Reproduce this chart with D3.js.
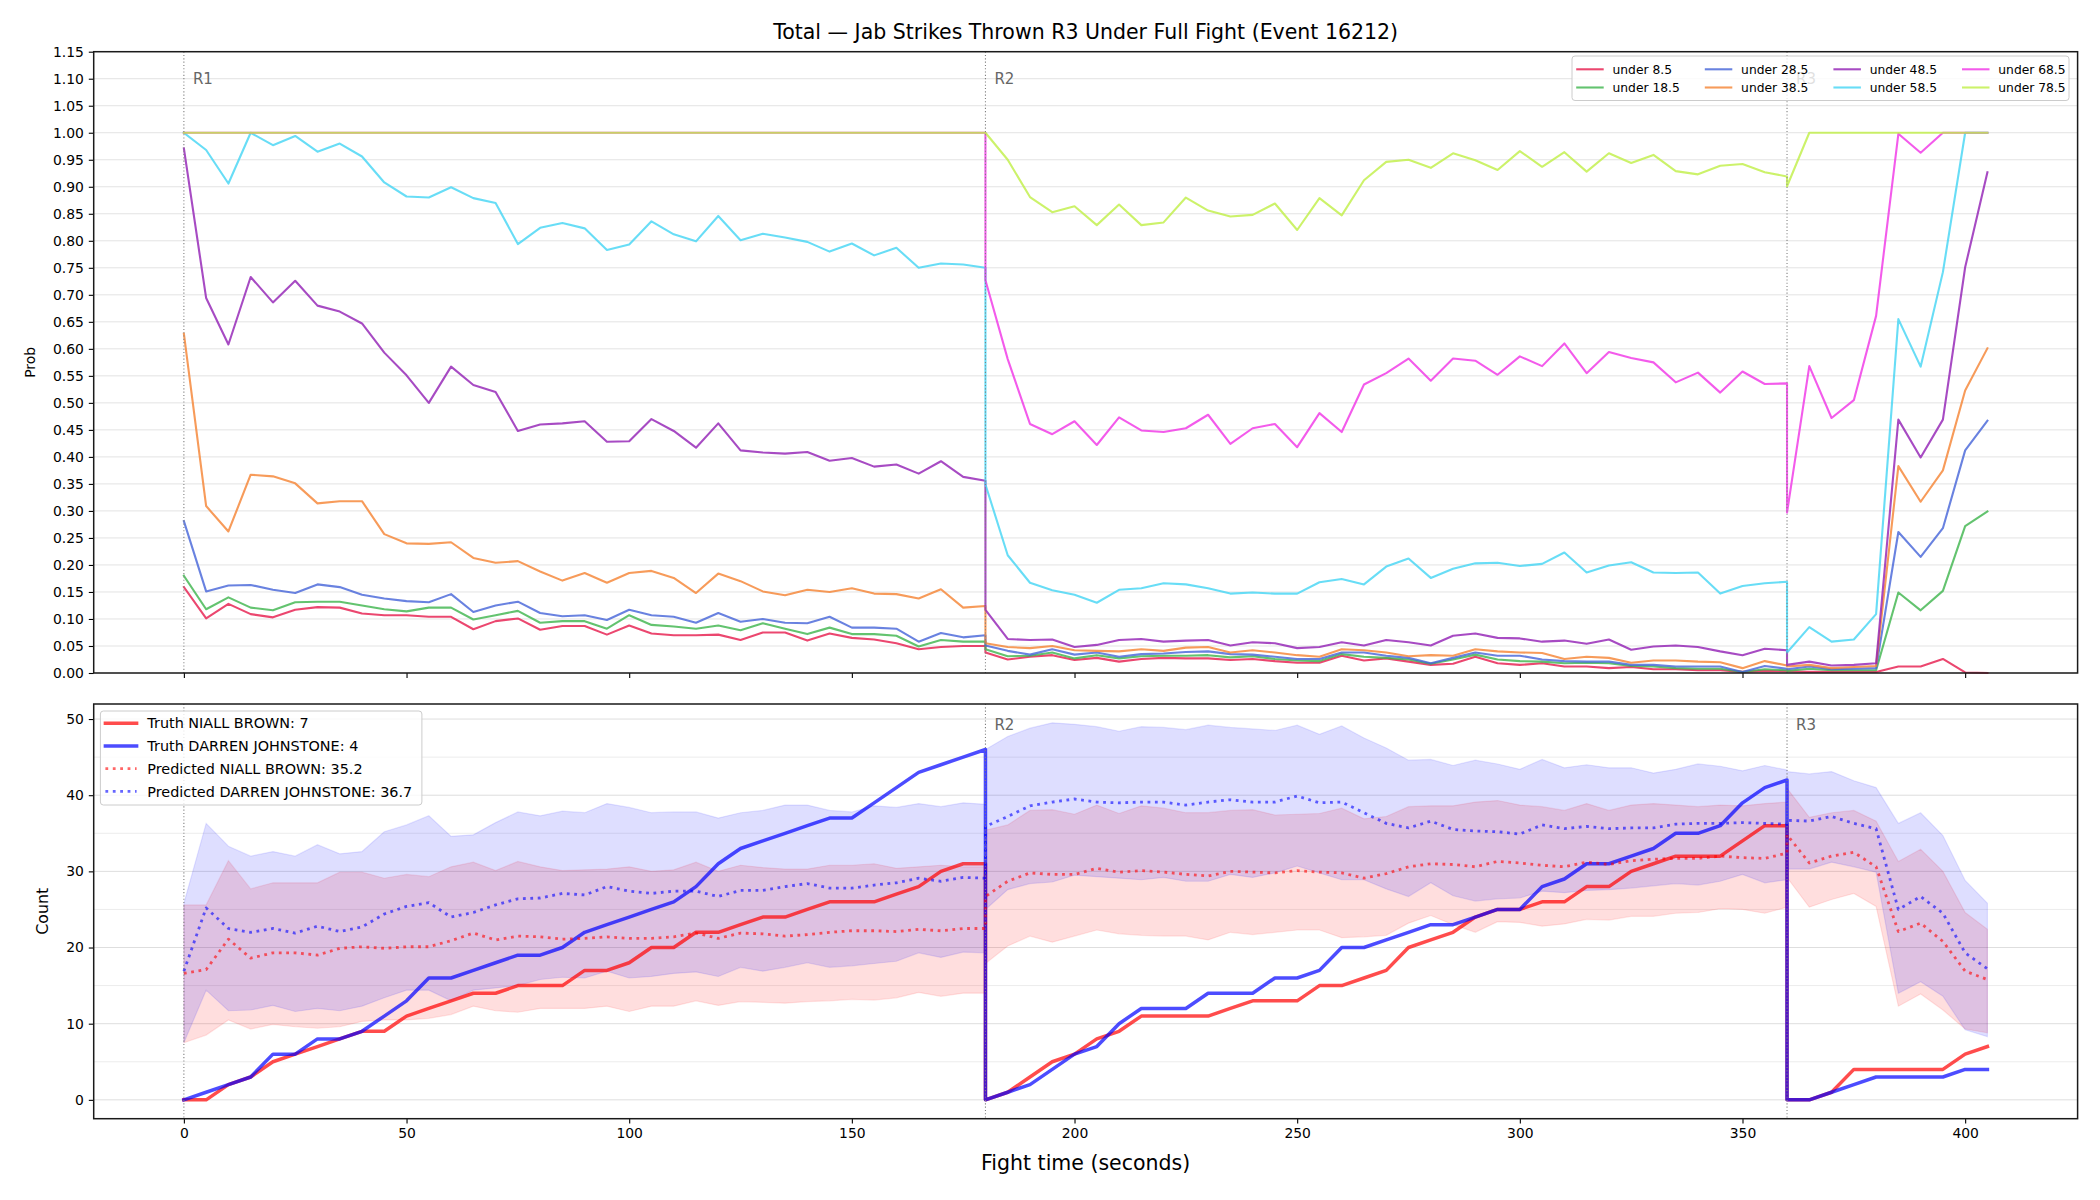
<!DOCTYPE html>
<html>
<head>
<meta charset="utf-8">
<script src="https://cdn.jsdelivr.net/npm/d3@7"></script>
<style>
  body { margin: 0; background: #fff; }
  svg text { font-family: "DejaVu Sans", sans-serif; }
</style>
</head>
<body>
<script>
// Jab strikes thrown: threshold probabilities (top) and cumulative counts (bottom).

// ---- time grid (each round restarts at its boundary, so 180 and 360 appear twice)
const R1_TIME = [0,5,10,15,20,25,30,35,40,45,50,55,60,65,70,75,80,85,90,95,100,105,110,115,120,125,130,135,140,145,150,155,160,165,170,175,180];
const R2_TIME = [180,185,190,195,200,205,210,215,220,225,230,235,240,245,250,255,260,265,270,275,280,285,290,295,300,305,310,315,320,325,330,335,340,345,350,355,360];
const R3_TIME = [360,365,370,375,380,385,390,395,400,405];
const TIME = [...R1_TIME, ...R2_TIME, ...R3_TIME];

// ---- top panel: P(total under line)
const U8_5 = [
  0.159,0.101,0.128,0.109,0.103,0.117,0.122,0.121,0.110,0.107,0.107,0.104,0.104,0.081,0.096,0.101,0.080,0.087,0.087,0.071,0.088,0.073,0.070,0.070,0.071,0.061,0.075,0.075,0.060,0.073,0.065,0.062,0.055,0.044,0.048,0.050,0.050,
  0.038,0.025,0.030,0.033,0.024,0.028,0.021,0.026,0.028,0.027,0.027,0.024,0.026,0.022,0.019,0.019,0.032,0.023,0.027,0.021,0.015,0.017,0.030,0.018,0.015,0.018,0.012,0.012,0.009,0.011,0.007,0.007,0.005,0.005,0.002,0.004,0.003,
  0.003,0.002,0.002,0.002,0.002,0.012,0.012,0.026,0.001,0.000];
const U18_5 = [
  0.180,0.118,0.140,0.121,0.116,0.131,0.132,0.132,0.125,0.118,0.114,0.121,0.121,0.099,0.107,0.115,0.093,0.096,0.096,0.082,0.107,0.089,0.086,0.082,0.088,0.079,0.092,0.082,0.072,0.084,0.072,0.072,0.069,0.049,0.061,0.058,0.058,
  0.044,0.031,0.032,0.038,0.027,0.033,0.027,0.031,0.032,0.032,0.033,0.029,0.031,0.026,0.023,0.022,0.035,0.030,0.028,0.025,0.017,0.025,0.034,0.025,0.022,0.021,0.018,0.019,0.018,0.013,0.012,0.009,0.008,0.008,0.002,0.007,0.005,
  0.004,0.008,0.005,0.005,0.005,0.149,0.116,0.152,0.272,0.299];
const U28_5 = [
  0.281,0.151,0.162,0.163,0.154,0.148,0.164,0.159,0.145,0.138,0.133,0.131,0.146,0.113,0.125,0.132,0.111,0.105,0.107,0.098,0.117,0.107,0.104,0.093,0.111,0.095,0.100,0.093,0.092,0.104,0.084,0.084,0.082,0.058,0.074,0.066,0.070,
  0.051,0.041,0.034,0.044,0.034,0.038,0.030,0.035,0.036,0.039,0.040,0.035,0.034,0.030,0.026,0.026,0.038,0.038,0.032,0.028,0.018,0.028,0.038,0.032,0.032,0.025,0.022,0.021,0.021,0.015,0.015,0.012,0.012,0.012,0.002,0.013,0.008,
  0.007,0.012,0.007,0.008,0.009,0.261,0.215,0.268,0.412,0.467];
const U38_5 = [
  0.628,0.309,0.262,0.367,0.364,0.351,0.314,0.318,0.318,0.257,0.240,0.239,0.242,0.213,0.204,0.207,0.188,0.171,0.185,0.167,0.185,0.189,0.176,0.148,0.184,0.170,0.151,0.144,0.154,0.150,0.157,0.147,0.146,0.138,0.155,0.121,0.124,
  0.055,0.048,0.046,0.050,0.042,0.041,0.040,0.044,0.041,0.047,0.048,0.038,0.042,0.038,0.033,0.030,0.044,0.042,0.038,0.031,0.033,0.032,0.044,0.040,0.038,0.037,0.026,0.030,0.028,0.019,0.023,0.023,0.021,0.020,0.009,0.022,0.014,
  0.012,0.015,0.009,0.011,0.013,0.383,0.317,0.375,0.523,0.601];
const U48_5 = [
  0.971,0.694,0.608,0.733,0.686,0.726,0.680,0.669,0.647,0.593,0.551,0.500,0.567,0.533,0.520,0.448,0.460,0.462,0.466,0.428,0.429,0.470,0.448,0.417,0.462,0.412,0.408,0.406,0.409,0.393,0.398,0.382,0.386,0.369,0.392,0.363,0.356,
  0.117,0.063,0.061,0.062,0.048,0.052,0.061,0.063,0.058,0.060,0.061,0.051,0.057,0.055,0.046,0.048,0.057,0.051,0.061,0.057,0.051,0.069,0.073,0.065,0.064,0.058,0.060,0.054,0.062,0.043,0.049,0.051,0.048,0.040,0.033,0.045,0.042,
  0.015,0.021,0.014,0.015,0.018,0.469,0.399,0.469,0.751,0.927];
const U58_5 = [
  1.000,0.968,0.906,1.000,0.977,0.994,0.965,0.980,0.956,0.908,0.882,0.880,0.899,0.879,0.870,0.794,0.824,0.833,0.823,0.783,0.793,0.836,0.812,0.799,0.846,0.801,0.813,0.806,0.798,0.780,0.795,0.773,0.787,0.750,0.758,0.756,0.750,
  0.349,0.218,0.167,0.153,0.145,0.130,0.154,0.157,0.166,0.164,0.157,0.147,0.149,0.147,0.147,0.168,0.174,0.164,0.197,0.212,0.176,0.193,0.203,0.204,0.198,0.202,0.223,0.186,0.199,0.205,0.186,0.185,0.186,0.147,0.161,0.166,0.169,
  0.038,0.085,0.058,0.062,0.109,0.655,0.567,0.742,1.000,1.000];
const U68_5 = [
  1,1,1,1,1,1,1,1,1,1,1,1,1,1,1,1,1,1,1,1,1,1,1,1,1,1,1,1,1,1,1,1,1,1,1,1,1,
  0.727,0.581,0.461,0.442,0.466,0.422,0.473,0.449,0.446,0.453,0.478,0.424,0.453,0.461,0.418,0.481,0.446,0.534,0.555,0.582,0.541,0.582,0.578,0.552,0.586,0.568,0.610,0.555,0.594,0.583,0.575,0.538,0.556,0.519,0.558,0.535,0.536,
  0.297,0.568,0.472,0.505,0.661,0.998,0.963,1.000,1.000,1.000];
const U78_5 = [
  1,1,1,1,1,1,1,1,1,1,1,1,1,1,1,1,1,1,1,1,1,1,1,1,1,1,1,1,1,1,1,1,1,1,1,1,1,
  1.000,0.950,0.881,0.853,0.864,0.829,0.867,0.829,0.834,0.880,0.856,0.845,0.848,0.869,0.820,0.879,0.847,0.912,0.946,0.950,0.935,0.962,0.949,0.931,0.966,0.937,0.964,0.928,0.962,0.944,0.959,0.929,0.923,0.939,0.942,0.927,0.919,
  0.901,1.000,1.000,1.000,1.000,1.000,1.000,1.000,1.000,1.000];

const PROB_LABELS = ["under 8.5","under 18.5","under 28.5","under 38.5","under 48.5","under 58.5","under 68.5","under 78.5"];
const PROB_COLORS = ["#e6194B","#3cb44b","#4363d8","#f58231","#911eb4","#42d4f4","#f032e6","#bfef45"];

// ---- bottom panel: cumulative counts
const TRUTH_NB = [
  0,0,2,3,5,6,7,8,9,9,11,12,13,14,14,15,15,15,17,17,18,20,20,22,22,23,24,24,25,26,26,26,27,28,30,31,31,
  0,1,3,5,6,8,9,11,11,11,11,12,13,13,13,15,15,16,17,20,21,22,24,25,25,26,26,28,28,30,31,32,32,32,34,36,36,
  0,0,1,4,4,4,4,4,6,7];
const TRUTH_DJ = [
  0,1,2,3,6,6,8,8,9,11,13,16,16,17,18,19,19,20,22,23,24,25,26,28,31,33,34,35,36,37,37,39,41,43,44,45,46,
  0,1,2,4,6,7,10,12,12,12,14,14,14,16,16,17,20,20,21,22,23,23,24,25,25,28,29,31,31,32,33,35,35,36,39,41,42,
  0,0,1,2,3,3,3,3,4,4];
const PRED_NB = [
  16.6,17.1,21.1,18.6,19.3,19.3,19.0,19.9,20.1,19.9,20.1,20.1,20.9,21.9,21.0,21.5,21.4,21.1,21.2,21.4,21.2,21.2,21.4,21.9,21.2,21.9,21.8,21.5,21.7,22.0,22.2,22.2,22.1,22.4,22.2,22.5,22.5,
  26.7,28.7,29.8,29.6,29.6,30.4,29.9,30.1,29.9,29.6,29.4,30.0,29.9,29.8,30.1,29.9,29.8,29.1,29.7,30.6,31.0,30.9,30.6,31.3,31.1,30.8,30.6,31.2,30.9,31.4,31.6,31.7,31.7,32.0,31.8,31.7,32.4,
  34.8,31.1,32.0,32.5,30.6,22.1,23.2,20.8,16.9,15.8];
const PRED_DJ = [
  16.9,25.2,22.5,22.0,22.5,21.9,22.8,22.1,22.7,24.4,25.4,25.9,24.0,24.6,25.6,26.4,26.5,27.1,26.9,28.0,27.4,27.1,27.4,27.4,26.7,27.5,27.5,28.0,28.4,27.8,27.8,28.2,28.5,29.1,28.7,29.2,29.1,
  35.9,37.2,38.6,39.1,39.5,39.1,39.0,39.1,39.1,38.7,39.1,39.4,39.1,39.1,39.9,39.0,39.1,37.7,36.3,35.7,36.6,35.5,35.3,35.2,34.9,36.1,35.6,35.9,35.6,35.7,35.7,36.2,36.3,36.3,36.4,36.3,36.2,
  36.7,36.6,37.2,36.3,35.6,25.0,26.7,24.5,19.3,17.2];
const BAND_NB_LO = [
  7.5,8.5,10.5,9.3,9.9,9.6,9.4,9.6,10.3,10.5,10.5,10.7,11.2,12.3,11.7,11.5,12.0,12.0,12.0,12.3,11.6,12.3,12.3,13.0,12.4,12.9,12.8,12.7,12.9,13.0,13.2,13.1,13.4,14.1,13.6,14.0,14.0,
  17.9,20.2,21.5,20.7,21.5,22.3,21.8,21.6,21.5,21.5,21.0,22.0,21.7,22.0,22.3,22.3,21.3,21.4,21.6,23.2,24.2,23.0,22.0,23.4,23.3,22.8,23.1,23.7,23.6,24.1,24.1,24.5,24.6,25.1,25.0,24.5,25.3,
  29.2,25.3,26.3,27.1,25.4,12.3,13.9,11.8,9.3,8.8];
const BAND_NB_HI = [
  25.6,25.6,31.4,27.7,28.5,28.5,28.5,29.9,29.9,29.1,29.6,29.3,30.6,31.2,30.1,31.3,30.6,30.1,30.2,30.3,30.6,30.0,30.2,31.2,30.0,30.8,30.5,30.3,30.3,30.8,30.8,31.0,30.4,30.6,30.8,30.6,30.6,
  35.4,36.1,38.0,38.1,37.5,38.7,37.6,38.6,38.3,37.7,37.7,38.0,38.1,37.4,37.5,37.6,38.3,36.9,37.2,38.5,38.6,38.6,39.1,39.3,38.7,38.5,38.0,38.9,38.0,38.7,38.9,38.7,38.5,38.7,38.6,38.9,39.1,
  40.9,37.1,37.7,38.0,36.6,31.3,32.9,30.0,24.6,22.4];
const BAND_DJ_LO = [
  7.5,14.4,11.7,11.8,12.4,11.6,12.0,11.7,12.3,13.4,14.4,14.4,13.0,14.4,14.7,15.0,15.8,16.1,16.0,16.9,16.0,16.2,16.6,16.8,16.2,17.4,16.9,17.4,18.0,17.4,17.6,17.9,18.2,19.3,18.7,19.4,19.3,
  25.0,27.6,28.4,28.6,29.5,29.3,29.1,28.9,29.2,28.7,28.7,29.6,29.2,29.8,30.7,29.8,28.9,28.9,27.7,26.7,28.5,26.8,26.1,26.4,26.5,27.4,27.2,27.5,27.6,27.8,28.1,28.4,28.2,28.7,29.6,28.5,28.9,
  30.3,30.3,31.2,30.6,29.9,14.0,15.5,13.6,9.2,8.3];
const BAND_DJ_HI = [
  25.8,36.3,33.3,32.0,32.6,32.0,33.5,32.3,32.6,35.2,36.1,37.3,34.6,34.8,36.4,37.8,37.3,37.9,37.7,38.9,38.4,37.7,37.8,37.8,37.0,37.7,38.0,38.7,38.7,38.0,37.8,38.6,38.4,38.9,38.5,39.0,38.8,
  46.0,47.7,48.8,49.5,49.3,49.0,48.4,49.0,48.9,48.6,49.2,48.9,48.7,48.5,49.2,48.0,49.1,47.5,46.2,44.6,44.7,43.9,44.6,44.1,43.4,44.7,43.6,44.0,43.6,43.6,42.9,43.4,44.1,43.8,43.2,43.9,43.3,
  43.1,42.8,43.1,41.9,41.0,36.3,37.7,34.7,28.8,25.8];

const COUNT_LEGEND = ["Truth NIALL BROWN: 7","Truth DARREN JOHNSTONE: 4","Predicted NIALL BROWN: 35.2","Predicted DARREN JOHNSTONE: 36.7"];

// ---- ticks and round markers
const X_TICKS = [0,50,100,150,200,250,300,350,400];
const PROB_TICKS = [0,0.05,0.10,0.15,0.20,0.25,0.30,0.35,0.40,0.45,0.50,0.55,0.60,0.65,0.70,0.75,0.80,0.85,0.90,0.95,1.00,1.05,1.10,1.15];
const COUNT_TICKS = [0,10,20,30,40,50];
const COUNT_GRID = [0,5,10,15,20,25,30,35,40,45,50];
const ROUND_STARTS = [0,180,360];
const ROUND_LABELS = ["R1","R2","R3"];

const TITLE = "Total — Jab Strikes Thrown R3 Under Full Fight (Event 16212)";

// sanity check on hand-entered series
[U8_5,U18_5,U28_5,U38_5,U48_5,U58_5,U68_5,U78_5,TRUTH_NB,TRUTH_DJ,PRED_NB,PRED_DJ,BAND_NB_LO,BAND_NB_HI,BAND_DJ_LO,BAND_DJ_HI]
  .forEach((s, i) => { if (s.length !== TIME.length) throw new Error("series " + i + " has " + s.length + " points"); });

// ---------------------------------------------------------------------------
const W = 2100, H = 1200;
const frame = { left: 93.7, right: 2077.6 };
const pTop = { top: 51.7, bottom: 673 };
const pBot = { top: 704, bottom: 1118.7 };

const svg = d3.select("body").append("svg").attr("width", W).attr("height", H);
svg.append("rect").attr("width", W).attr("height", H).attr("fill", "#fff");

const x = d3.scaleLinear().domain([-20.25, 425.25]).range([frame.left, frame.right]);
const yProb = d3.scaleLinear().domain([0, 1.15]).range([pTop.bottom, pTop.top]);
const yCount = d3.scaleLinear().domain([-2.475, 51.975]).range([pBot.bottom, pBot.top]);

const toRows = vals => TIME.map((t, i) => ({ t, v: vals[i] }));

function hgrid(g, scale, values, color) {
  g.selectAll(null).data(values).join("line")
    .attr("x1", frame.left).attr("x2", frame.right)
    .attr("y1", d => scale(d)).attr("y2", d => scale(d))
    .attr("stroke", color).attr("stroke-width", 1);
}

function styleAxis(g, size) {
  g.select(".domain").remove();
  g.attr("font-family", "DejaVu Sans, sans-serif").attr("font-size", size);
  g.selectAll(".tick line").attr("stroke", "#000").attr("stroke-width", 1.1);
  g.selectAll(".tick text").attr("fill", "#000");
}

// dotted round boundaries; labels only where the reference shows them
function roundMarkers(g, panel, labelIdx) {
  g.selectAll(null).data(ROUND_STARTS).join("line")
    .attr("x1", d => x(d)).attr("x2", d => x(d))
    .attr("y1", panel.top).attr("y2", panel.bottom)
    .attr("stroke", "#808080").attr("stroke-width", 1.1)
    .attr("stroke-dasharray", "1.1,2.2");
  const h = panel.bottom - panel.top;
  g.selectAll(null).data(labelIdx).join("text")
    .attr("x", i => x(ROUND_STARTS[i]) + 9)
    .attr("y", panel.top + 0.03 * h + 13.5)
    .attr("font-size", 15).attr("fill", "#666")
    .text(i => ROUND_LABELS[i]);
}

function frameRect(g, panel) {
  g.append("rect")
    .attr("x", frame.left).attr("y", panel.top)
    .attr("width", frame.right - frame.left).attr("height", panel.bottom - panel.top)
    .attr("fill", "none").attr("stroke", "#1a1a1a").attr("stroke-width", 1.5);
}

function legendBox(g, box) {
  g.append("rect")
    .attr("x", box.x).attr("y", box.y).attr("width", box.w).attr("height", box.h)
    .attr("rx", 3)
    .attr("fill", "#fff").attr("fill-opacity", 0.8)
    .attr("stroke", "#cccccc").attr("stroke-width", 1);
}

// ---------------- top panel -------------------------------------------------
const gTop = svg.append("g");
hgrid(gTop, yProb, PROB_TICKS, "#e3e3e3");

const probLine = d3.line().x(d => x(d.t)).y(d => yProb(d.v));
const probSeries = [U8_5, U18_5, U28_5, U38_5, U48_5, U58_5, U68_5, U78_5]
  .map((vals, i) => ({ label: PROB_LABELS[i], color: PROB_COLORS[i], rows: toRows(vals) }));

gTop.selectAll("path.prob").data(probSeries).join("path")
  .attr("class", "prob")
  .attr("d", d => probLine(d.rows))
  .attr("fill", "none")
  .attr("stroke", d => d.color).attr("stroke-opacity", 0.8)
  .attr("stroke-width", 2.1)
  .attr("stroke-linejoin", "round").attr("stroke-linecap", "square");

roundMarkers(gTop, pTop, [0, 1, 2]);

gTop.append("g").attr("transform", `translate(${frame.left},0)`)
  .call(d3.axisLeft(yProb).tickValues(PROB_TICKS).tickFormat(d3.format(".2f")).tickSize(4.9).tickPadding(4.9))
  .call(g => styleAxis(g, 13.9));
gTop.append("g").attr("transform", `translate(0,${pTop.bottom})`)
  .call(d3.axisBottom(x).tickValues(X_TICKS).tickFormat(() => "").tickSize(4.9))
  .call(g => styleAxis(g, 13.9));
frameRect(gTop, pTop);

svg.append("text")
  .attr("x", (frame.left + frame.right) / 2).attr("y", 38.5)
  .attr("text-anchor", "middle").attr("font-size", 20.5).attr("fill", "#000")
  .text(TITLE);
svg.append("text")
  .attr("transform", `translate(34.5,${(pTop.top + pTop.bottom) / 2}) rotate(-90)`)
  .attr("text-anchor", "middle").attr("font-size", 13.9).attr("fill", "#000")
  .text("Prob");

// legend (4 columns, column-major)
{
  const lg = svg.append("g");
  const box = { x: 1572, y: 56, w: 497, h: 44.5 };
  legendBox(lg, box);
  const rowsY = [69.3, 87.5], colW = 128.6, fs = 12.3;
  probSeries.forEach((s, i) => {
    const col = Math.floor(i / 2), row = i % 2;
    const hx = box.x + 4.2 + col * colW, hy = rowsY[row];
    lg.append("line").attr("x1", hx).attr("x2", hx + 27.5).attr("y1", hy).attr("y2", hy)
      .attr("stroke", s.color).attr("stroke-opacity", 0.8).attr("stroke-width", 2.1);
    lg.append("text").attr("x", hx + 36.3).attr("y", hy + 0.36 * fs)
      .attr("font-size", fs).attr("fill", "#000").text(s.label);
  });
}

// ---------------- bottom panel ----------------------------------------------
const gBot = svg.append("g");
hgrid(gBot, yCount, COUNT_GRID.filter(v => !COUNT_TICKS.includes(v)), "#ececec");
hgrid(gBot, yCount, COUNT_TICKS, "#dedede");

const band = d3.area().x(d => x(d.t)).y0(d => yCount(d.lo)).y1(d => yCount(d.hi));
const bands = [
  { color: "#ff0000", rows: TIME.map((t, i) => ({ t, lo: BAND_NB_LO[i], hi: BAND_NB_HI[i] })) },
  { color: "#0000ff", rows: TIME.map((t, i) => ({ t, lo: BAND_DJ_LO[i], hi: BAND_DJ_HI[i] })) }
];
gBot.selectAll("path.band").data(bands).join("path")
  .attr("class", "band")
  .attr("d", d => band(d.rows))
  .attr("fill", d => d.color).attr("fill-opacity", 0.13)
  .attr("stroke", d => d.color).attr("stroke-opacity", 0.1).attr("stroke-width", 1.2);

const countLine = d3.line().x(d => x(d.t)).y(d => yCount(d.v));
const countSeries = [
  { label: COUNT_LEGEND[0], color: "#ff0000", rows: toRows(TRUTH_NB), dotted: false },
  { label: COUNT_LEGEND[1], color: "#0000ff", rows: toRows(TRUTH_DJ), dotted: false },
  { label: COUNT_LEGEND[2], color: "#ff0000", rows: toRows(PRED_NB), dotted: true },
  { label: COUNT_LEGEND[3], color: "#0000ff", rows: toRows(PRED_DJ), dotted: true }
];
const strokeOf = (sel) => sel
  .attr("fill", "none")
  .attr("stroke", d => d.color)
  .attr("stroke-opacity", d => d.dotted ? 0.6 : 0.7)
  .attr("stroke-width", d => d.dotted ? 2.8 : 3.5)
  .attr("stroke-dasharray", d => d.dotted ? "2.8,4.6" : null)
  .attr("stroke-linecap", d => d.dotted ? "butt" : "square")
  .attr("stroke-linejoin", "round");

gBot.selectAll("path.count").data(countSeries).join("path")
  .attr("class", "count")
  .attr("d", d => countLine(d.rows))
  .call(strokeOf);

// R1 sits under the legend in the reference and is not visible there
roundMarkers(gBot, pBot, [1, 2]);

gBot.append("g").attr("transform", `translate(${frame.left},0)`)
  .call(d3.axisLeft(yCount).tickValues(COUNT_TICKS).tickSize(4.9).tickPadding(4.9))
  .call(g => styleAxis(g, 13.9));
gBot.append("g").attr("transform", `translate(0,${pBot.bottom})`)
  .call(d3.axisBottom(x).tickValues(X_TICKS).tickSize(4.9).tickPadding(4.9))
  .call(g => styleAxis(g, 13.9));
frameRect(gBot, pBot);

svg.append("text")
  .attr("x", (frame.left + frame.right) / 2).attr("y", 1170)
  .attr("text-anchor", "middle").attr("font-size", 20.5).attr("fill", "#000")
  .text("Fight time (seconds)");
svg.append("text")
  .attr("transform", `translate(47.5,${(pBot.top + pBot.bottom) / 2}) rotate(-90)`)
  .attr("text-anchor", "middle").attr("font-size", 15.8).attr("fill", "#000")
  .text("Count");

{
  const lg = svg.append("g");
  const box = { x: 100.4, y: 711, w: 321.5, h: 94 };
  legendBox(lg, box);
  const rowsY = [723.3, 746, 768.7, 791.4], fs = 14.4;
  countSeries.forEach((s, i) => {
    const hy = rowsY[i];
    lg.append("line").datum(s)
      .attr("x1", 105.4).attr("x2", 136.6).attr("y1", hy).attr("y2", hy)
      .call(strokeOf);
    lg.append("text").attr("x", 147.3).attr("y", hy + 0.36 * fs)
      .attr("font-size", fs).attr("fill", "#000").text(s.label);
  });
}
</script>
</body>
</html>
